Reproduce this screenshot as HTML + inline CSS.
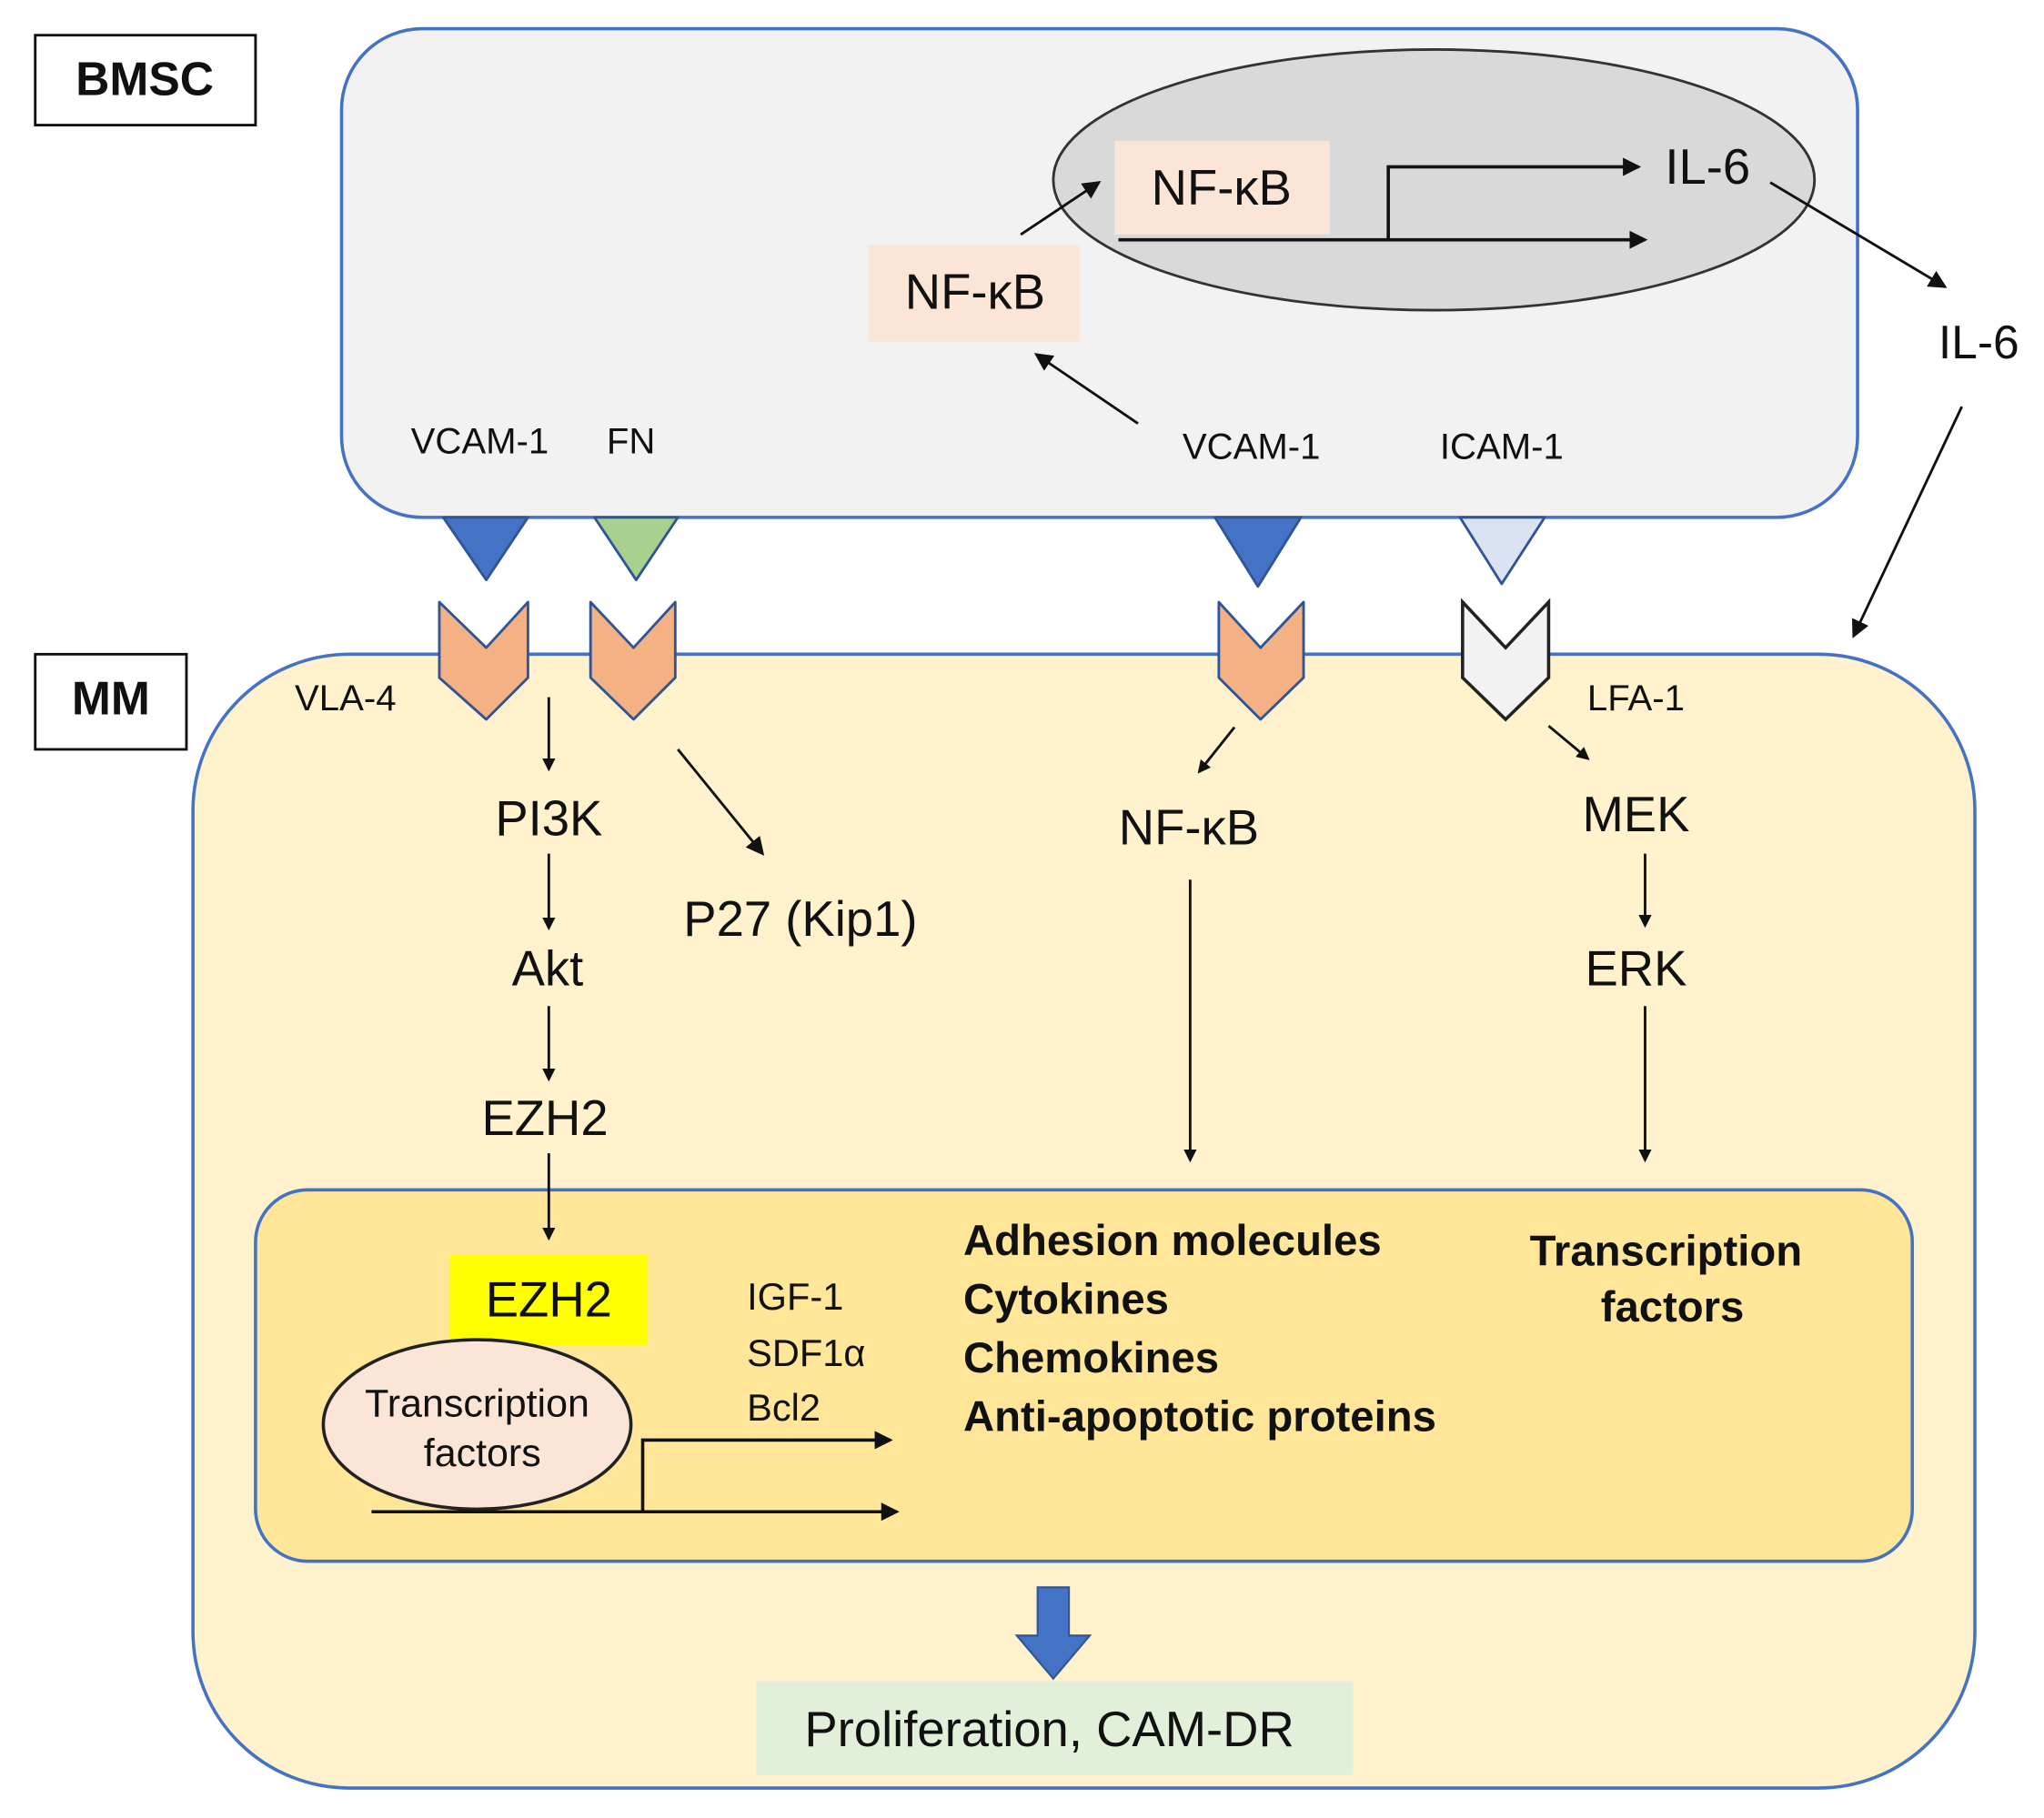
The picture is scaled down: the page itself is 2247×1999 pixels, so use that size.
<!DOCTYPE html>
<html><head><meta charset="utf-8"><style>
html,body{margin:0;padding:0;background:#fff;}
svg{display:block;}
text{font-family:"Liberation Sans",sans-serif;fill:#111;}
</style></head><body>
<svg width="2247" height="1999" viewBox="0 0 1568 1395" xmlns="http://www.w3.org/2000/svg">
<defs>
<marker id="a" markerWidth="10" markerHeight="10" refX="8" refY="5" orient="auto" markerUnits="userSpaceOnUse"><path d="M0,0 L10,5 L0,10 z" fill="#111"/></marker>
<marker id="b" markerWidth="14" markerHeight="14" refX="12" refY="7" orient="auto" markerUnits="userSpaceOnUse"><path d="M0,0 L14,7 L0,14 z" fill="#111"/></marker>
</defs>
<rect x="27" y="27" width="169" height="69" fill="#fff" stroke="#111" stroke-width="2"/>
<text x="111" y="73" font-size="36" font-weight="bold" text-anchor="middle">BMSC</text>
<rect x="262" y="22" width="1163" height="375" rx="62" fill="#f2f2f2" stroke="#4472c4" stroke-width="2.5"/>
<ellipse cx="1100" cy="138" rx="292" ry="100" fill="#d9d9d9" stroke="#333" stroke-width="2"/>
<rect x="855" y="108" width="165" height="72" fill="#fbe5d6"/>
<text x="937" y="157" font-size="38" text-anchor="middle">NF-κB</text>
<rect x="666" y="188" width="162" height="74" fill="#fbe5d6"/>
<text x="748" y="237" font-size="38" text-anchor="middle">NF-κB</text>
<line x1="783" y1="180" x2="843" y2="140" stroke="#111" stroke-width="2" marker-end="url(#b)"/>
<line x1="873" y1="325" x2="795" y2="272" stroke="#111" stroke-width="2" marker-end="url(#b)"/>
<line x1="858" y1="184" x2="1262" y2="184" stroke="#111" stroke-width="2.5" marker-end="url(#b)"/>
<polyline points="1065,184 1065,128 1257,128" fill="none" stroke="#111" stroke-width="2.5" marker-end="url(#b)"/>
<text x="1310" y="141" font-size="38" text-anchor="middle">IL-6</text>
<line x1="1358" y1="140" x2="1492" y2="220" stroke="#111" stroke-width="2" marker-end="url(#b)"/>
<text x="1518" y="275" font-size="36" text-anchor="middle">IL-6</text>
<line x1="1505" y1="312" x2="1422" y2="488" stroke="#111" stroke-width="2" marker-end="url(#b)"/>
<g font-size="28" text-anchor="middle">
<text x="368" y="348">VCAM-1</text><text x="484" y="348">FN</text>
<text x="960" y="352">VCAM-1</text><text x="1152" y="352">ICAM-1</text>
</g>
<rect x="27" y="502" width="116" height="73" fill="#fff" stroke="#111" stroke-width="2"/>
<text x="85" y="548" font-size="36" font-weight="bold" text-anchor="middle">MM</text>
<rect x="148" y="502" width="1367" height="870" rx="120" fill="#fff2cc" stroke="#4472c4" stroke-width="2.5"/>
<g stroke="#2f5597" stroke-width="2" stroke-linejoin="round">
<path d="M340,397 L405,397 L373,445 z" fill="#4472c4"/>
<path d="M456,397 L520,397 L488,445 z" fill="#a9d18e"/>
<path d="M932,397 L998,397 L965,450 z" fill="#4472c4"/>
<path d="M1120,397 L1185,397 L1152,448 z" fill="#dae3f3"/>
<path d="M337,462 L373,497 L405,462 L405,520 L373,552 L337,520 z" fill="#f4b183"/>
<path d="M453,462 L486,497 L518,462 L518,520 L486,552 L453,520 z" fill="#f4b183"/>
<path d="M935,462 L967,497 L1000,462 L1000,520 L967,552 L935,520 z" fill="#f4b183"/>
</g>
<path d="M1122,462 L1155,497 L1188,462 L1188,520 L1155,552 L1122,520 z" fill="#f2f2f2" stroke="#222" stroke-width="2.5"/>
<g font-size="28" text-anchor="middle">
<text x="265" y="545">VLA-4</text><text x="1255" y="545">LFA-1</text>
</g>
<g stroke="#111" stroke-width="2" fill="none">
<line x1="421" y1="535" x2="421" y2="590" marker-end="url(#a)"/>
<line x1="421" y1="655" x2="421" y2="712" marker-end="url(#a)"/>
<line x1="421" y1="772" x2="421" y2="828" marker-end="url(#a)"/>
<line x1="520" y1="575" x2="585" y2="655" marker-end="url(#b)"/>
<line x1="947" y1="558" x2="920" y2="592" marker-end="url(#a)"/>
<line x1="913" y1="675" x2="913" y2="890" marker-end="url(#a)"/>
<line x1="1188" y1="557" x2="1218" y2="582" marker-end="url(#a)"/>
<line x1="1262" y1="655" x2="1262" y2="710" marker-end="url(#a)"/>
<line x1="1262" y1="772" x2="1262" y2="890" marker-end="url(#a)"/>
</g>
<g font-size="38" text-anchor="middle">
<text x="421" y="641">PI3K</text><text x="420" y="756">Akt</text><text x="418" y="871">EZH2</text>
<text x="614" y="718">P27 (Kip1)</text><text x="912" y="648">NF-κB</text>
<text x="1255" y="638">MEK</text><text x="1255" y="756">ERK</text>
</g>
<rect x="196" y="913" width="1271" height="285" rx="40" fill="#ffe699" stroke="#4472c4" stroke-width="2.5"/>
<line x1="421" y1="885" x2="421" y2="950" stroke="#111" stroke-width="2" marker-end="url(#a)"/>
<rect x="345" y="963" width="152" height="69" fill="#ffff00"/>
<text x="421" y="1010" font-size="38" text-anchor="middle">EZH2</text>
<ellipse cx="366" cy="1093" rx="118" ry="65" fill="#fbe5d6" stroke="#222" stroke-width="2.5"/>
<g font-size="30" text-anchor="middle"><text x="366" y="1087">Transcription</text><text x="370" y="1125">factors</text></g>
<line x1="285" y1="1160" x2="688" y2="1160" stroke="#111" stroke-width="2.5" marker-end="url(#b)"/>
<polyline points="493,1160 493,1105 683,1105" fill="none" stroke="#111" stroke-width="2.5" marker-end="url(#b)"/>
<g font-size="29"><text x="573" y="1005">IGF-1</text><text x="573" y="1048">SDF1α</text><text x="573" y="1090">Bcl2</text></g>
<g font-size="33" font-weight="bold" fill="#222">
<text x="739" y="963">Adhesion molecules</text><text x="739" y="1008">Cytokines</text>
<text x="739" y="1053">Chemokines</text><text x="739" y="1098">Anti-apoptotic proteins</text>
<text x="1278" y="971" text-anchor="middle">Transcription</text><text x="1283" y="1014" text-anchor="middle">factors</text>
</g>
<path d="M796,1218 L820,1218 L820,1255 L836,1255 L808,1288 L780,1255 L796,1255 z" fill="#4472c4" stroke="#2f5597" stroke-width="1.5"/>
<rect x="580" y="1290" width="458" height="72" fill="#e2f0d9"/>
<text x="805" y="1340" font-size="38" text-anchor="middle">Proliferation, CAM-DR</text>
</svg>
</body></html>
